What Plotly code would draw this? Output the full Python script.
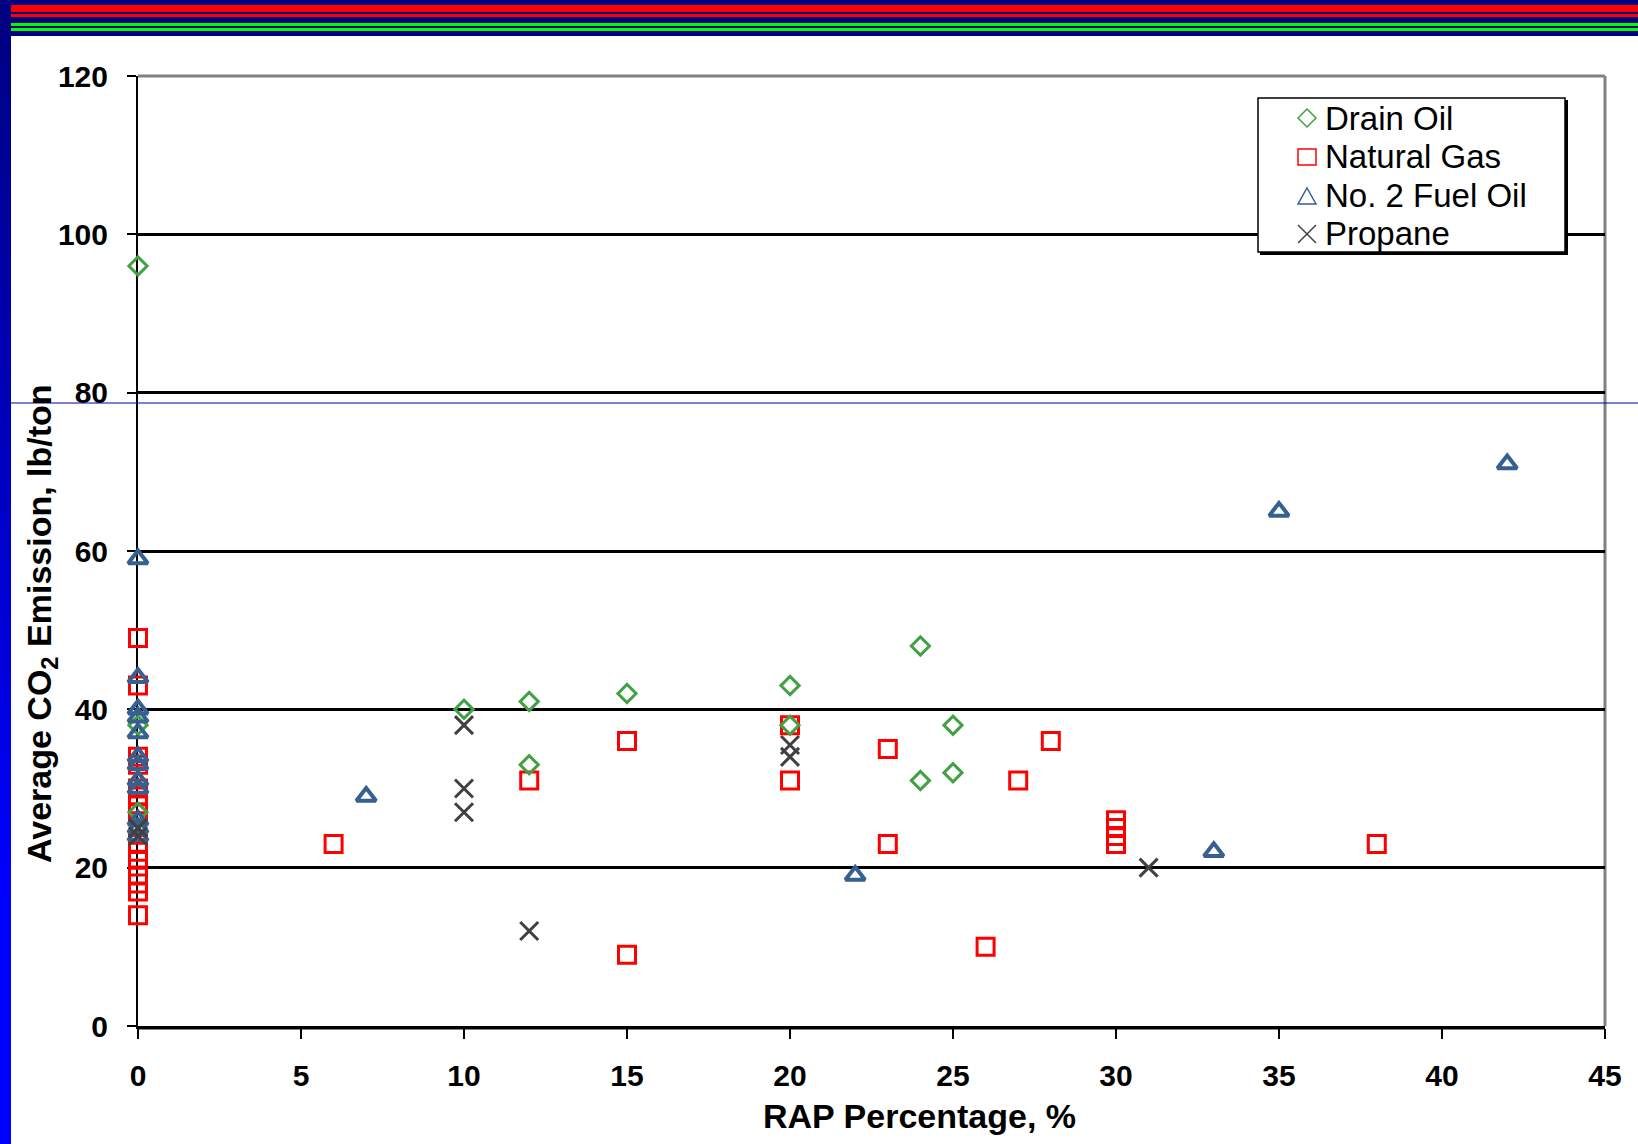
import plotly.graph_objects as go

# ---------------- data ----------------
drain_x = [0, 0, 0, 10, 12, 12, 15, 20, 20, 24, 24, 25, 25]
drain_y = [96, 38, 27, 40, 41, 33, 42, 43, 38, 48, 31, 38, 32]

gas_x = [0, 0, 0, 0, 0, 0, 0, 0, 0, 0, 0, 0, 0, 0, 0,
         6, 12, 15, 15, 20, 20, 23, 23, 26, 27, 28, 30, 30, 30, 30, 38]
gas_y = [49, 43, 34, 33, 30, 29, 28, 27, 23, 22, 21, 19, 18, 17, 14,
         23, 31, 36, 9, 38, 31, 35, 23, 10, 31, 36, 26, 25, 24, 23, 23]

fuel_x = [0, 0, 0, 0, 0, 0, 0, 0, 0, 0, 0, 0, 7, 22, 33, 35, 42]
fuel_y = [59, 44, 40, 39, 37, 34, 33, 31, 30, 26, 25, 24, 29, 19, 22, 65, 71]

propane_x = [0, 0, 10, 10, 10, 12, 20, 20, 31]
propane_y = [25, 24, 38, 30, 27, 12, 35.5, 34, 20]

series_names = ["Drain Oil", "Natural Gas", "No. 2 Fuel Oil", "Propane"]
x_ticks = [0, 5, 10, 15, 20, 25, 30, 35, 40, 45]
y_ticks = [0, 20, 40, 60, 80, 100, 120]

# ---------------- styling ----------------
W, H = 1638, 1144
L, R, T, B = 138, 33, 76, 118
PW, PH = W - L - R, H - T - B

def px_x(p):
    return (p - L) / PW

def px_y(p):
    return (H - B - p) / PH

GREEN = "#44A044"
RED = "#FF0000"
BLUE = "#36608F"
GRAY = "#404040"
FONT = "Liberation Sans, Arial, sans-serif"

fig = go.Figure()

def add_series(x, y, name, symbol, color, size, lw):
    fig.add_trace(go.Scatter(
        x=x, y=y, mode="markers", name=name, showlegend=False,
        cliponaxis=False,
        marker=dict(symbol=symbol, size=size, color=color,
                    line=dict(color=color, width=lw)),
    ))

add_series(gas_x, gas_y, series_names[1], "square-open", RED, 17, 3)
add_series(drain_x, drain_y, series_names[0], "diamond-open", GREEN, 14, 3)
add_series(fuel_x, fuel_y, series_names[2], "triangle-up-open", BLUE, 17, 4)
add_series(propane_x, propane_y, series_names[3], "x-thin", GRAY, 18, 3)

shapes = []
# top decorative band
shapes.append(dict(type="rect", xref="paper", yref="paper",
                   x0=px_x(0), x1=px_x(W), y0=px_y(0), y1=px_y(36),
                   fillcolor="#000080", line=dict(width=0), layer="above"))
for (y0, y1, c) in [(5, 12, "#FF0000"), (14, 17, "#FF0000"),
                    (23, 26, "#00FF00"), (28, 31, "#00FF00")]:
    shapes.append(dict(type="rect", xref="paper", yref="paper",
                       x0=px_x(11), x1=px_x(W), y0=px_y(y0), y1=px_y(y1),
                       fillcolor=c, line=dict(width=0), layer="above"))
# left gradient bar
n = 40
for i in range(n):
    ya = 36 + (H - 36) * i / n
    yb = 36 + (H - 36) * (i + 1) / n
    f = min(1.0, ((ya + yb) / 2) / 900)
    bcol = int(128 + 127 * f)
    shapes.append(dict(type="rect", xref="paper", yref="paper",
                       x0=px_x(0), x1=px_x(11), y0=px_y(ya), y1=px_y(yb + 1),
                       fillcolor="rgb(0,0,%d)" % bcol, line=dict(width=0), layer="above"))
# thin navy line across
shapes.append(dict(type="line", xref="paper", yref="paper",
                   x0=px_x(11), x1=px_x(W), y0=px_y(403), y1=px_y(403),
                   line=dict(color="#0000A0", width=1), layer="above"))
# gray plot frame (top and right)
shapes.append(dict(type="line", xref="paper", yref="paper",
                   x0=0, x1=1, y0=1, y1=1, line=dict(color="#808080", width=3), layer="above"))
shapes.append(dict(type="line", xref="paper", yref="paper",
                   x0=1, x1=1, y0=0, y1=1, line=dict(color="#808080", width=3), layer="below"))
# gray shadow under x axis
shapes.append(dict(type="line", xref="paper", yref="paper",
                   x0=0, x1=1, y0=-2.5 / PH, y1=-2.5 / PH,
                   line=dict(color="#808080", width=3), layer="below"))

# ---------------- legend (box, symbols, labels) ----------------
shapes.append(dict(type="rect", xref="paper", yref="paper",
                   x0=px_x(1260), x1=px_x(1568), y0=px_y(100), y1=px_y(255),
                   fillcolor="#000000", line=dict(width=0), layer="above"))
shapes.append(dict(type="rect", xref="paper", yref="paper",
                   x0=px_x(1258), x1=px_x(1565), y0=px_y(98), y1=px_y(252),
                   fillcolor="#FFFFFF", line=dict(color="#000000", width=1.5), layer="above"))

LEG_SYM_X = 1307
LEG_TEXT_X = 1323
LEG_ROWS = [118, 157, 196, 234]

def ppath(points, close=True):
    s = "M " + " L ".join("%.6f %.6f" % (px_x(a), px_y(b)) for a, b in points)
    return s + (" Z" if close else "")

cx = LEG_SYM_X
r0, r1, r2, r3 = LEG_ROWS
# diamond
shapes.append(dict(type="path", xref="paper", yref="paper",
                   path=ppath([(cx, r0 - 9), (cx + 9, r0), (cx, r0 + 9), (cx - 9, r0)]),
                   line=dict(color=GREEN, width=1.5), fillcolor="rgba(0,0,0,0)", layer="above"))
# square
shapes.append(dict(type="path", xref="paper", yref="paper",
                   path=ppath([(cx - 9, r1 - 8), (cx + 9, r1 - 8), (cx + 9, r1 + 8), (cx - 9, r1 + 8)]),
                   line=dict(color=RED, width=1.5), fillcolor="rgba(0,0,0,0)", layer="above"))
# triangle
shapes.append(dict(type="path", xref="paper", yref="paper",
                   path=ppath([(cx, r2 - 8), (cx + 9, r2 + 8), (cx - 9, r2 + 8)]),
                   line=dict(color=BLUE, width=1.5), fillcolor="rgba(0,0,0,0)", layer="above"))
# x
shapes.append(dict(type="path", xref="paper", yref="paper",
                   path=ppath([(cx - 9, r3 - 9), (cx + 9, r3 + 9)], close=False) + " " +
                        ppath([(cx - 9, r3 + 9), (cx + 9, r3 - 9)], close=False),
                   line=dict(color=GRAY, width=1.5), layer="above"))

annotations = []
for nm, ry in zip(series_names, LEG_ROWS):
    annotations.append(dict(text=nm, xref="paper", yref="paper",
                            x=px_x(LEG_TEXT_X), y=px_y(ry), showarrow=False,
                            xanchor="left", yanchor="middle",
                            font=dict(family=FONT, size=33, color="#000000")))

annotations += [
    dict(text="RAP Percentage, %", xref="paper", yref="paper",
         x=px_x(919), y=px_y(1116), showarrow=False, xanchor="center", yanchor="middle",
         font=dict(family=FONT, size=34, color="#000000", weight="bold")),
    dict(text="Average CO<sub>2</sub> Emission, lb/ton", xref="paper", yref="paper",
         x=px_x(42), y=px_y(624), showarrow=False, textangle=-90,
         xanchor="center", yanchor="middle",
         font=dict(family=FONT, size=34, color="#000000", weight="bold")),
]

fig.update_layout(
    width=W, height=H,
    margin=dict(l=L, r=R, t=T, b=B, pad=0),
    paper_bgcolor="#FFFFFF", plot_bgcolor="#FFFFFF",
    showlegend=False,
    xaxis=dict(range=[0, 45], tickvals=x_ticks, ticktext=[str(v) for v in x_ticks],
               showgrid=False, zeroline=False,
               showline=True, linecolor="#000000", linewidth=2.5,
               ticks="outside", ticklen=10, tickwidth=2, tickcolor="#000000",
               ticklabelstandoff=11, layer="below traces",
               tickfont=dict(family=FONT, size=30, color="#000000", weight="bold")),
    yaxis=dict(range=[0, 120], tickvals=y_ticks, ticktext=[str(v) for v in y_ticks],
               showgrid=True, gridcolor="#000000", gridwidth=3, zeroline=False,
               showline=True, linecolor="#000000", linewidth=2,
               ticks="outside", ticklen=9, tickwidth=2, tickcolor="#000000",
               ticklabelstandoff=13, layer="below traces",
               tickfont=dict(family=FONT, size=30, color="#000000", weight="bold")),
    shapes=shapes,
    annotations=annotations,
)

fig.write_html("out.html", config={"displayModeBar": False},
               post_script="document.body.style.margin='0';")
